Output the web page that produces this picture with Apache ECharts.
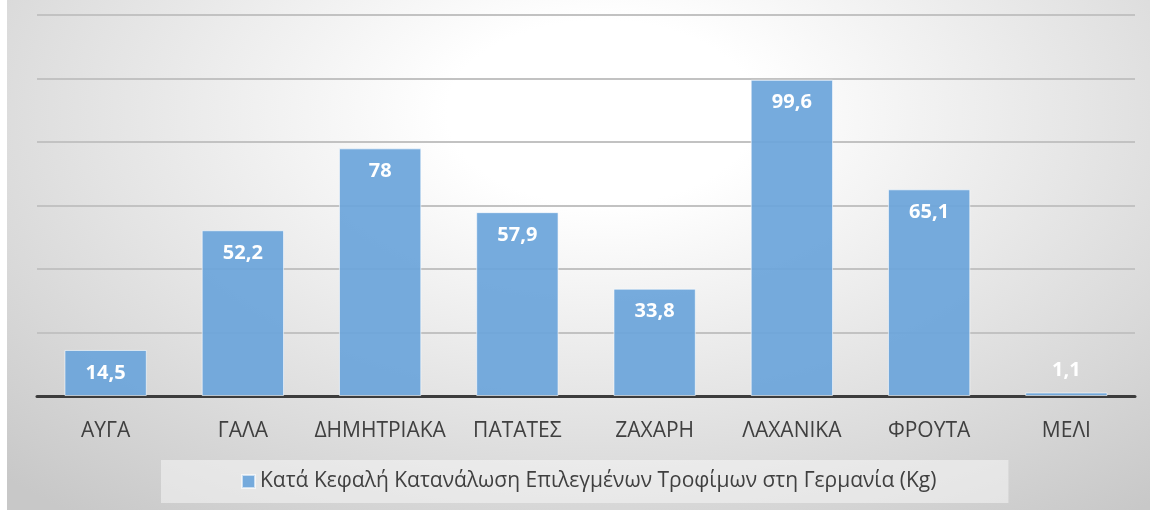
<!DOCTYPE html>
<html>
<head>
<meta charset="utf-8">
<script src="https://cdn.jsdelivr.net/npm/echarts@6/dist/echarts.min.js"></script>
<style>
  html, body { margin: 0; padding: 0; background: #ffffff; }
  #chart {
    position: absolute;
    left: 7px;
    top: 0;
    width: 1143px;
    height: 510px;
    background: radial-gradient(ellipse 75% 100% at 52% 22%, #ffffff 18%, #c8c8c8 100%);
  }
</style>
</head>
<body>
<div id="chart"></div>
<script>
  // Κατά κεφαλή κατανάλωση (Kg)
  const categories = ['ΑΥΓΑ', 'ΓΑΛΑ', 'ΔΗΜΗΤΡΙΑΚΑ', 'ΠΑΤΑΤΕΣ', 'ΖΑΧΑΡΗ', 'ΛΑΧΑΝΙΚΑ', 'ΦΡΟΥΤΑ', 'ΜΕΛΙ'];
  const values = [14.5, 52.2, 78, 57.9, 33.8, 99.6, 65.1, 1.1];
  const seriesName = 'Κατά Κεφαλή Κατανάλωση Επιλεγμένων Τροφίμων στη Γερμανία (Kg)';

  const font = '"Open Sans", "Noto Sans", sans-serif';

  // tiny bar: label goes above it
  const barData = values.map(v => v < 5
    ? { value: v, label: { position: 'top', distance: 12 } }
    : v);

  let myChart = echarts.init(document.getElementById('chart'));
  myChart.setOption({
    backgroundColor: 'transparent',
    animation: false,
    textStyle: { fontFamily: font },
    grid: {
      left: 30,
      right: 15,
      top: 15,
      bottom: 114
    },
    legend: {
      data: [{ name: seriesName, icon: 'rect' }],
      bottom: 7,
      left: 154,
      itemWidth: 13,
      itemHeight: 13,
      itemGap: 5,
      padding: [11, 72, 11, 80],
      backgroundColor: 'rgba(245,245,245,0.55)',
      textStyle: { fontSize: 21, color: '#404040', fontFamily: font }
    },
    xAxis: {
      type: 'category',
      data: categories,
      axisLine: { lineStyle: { color: '#3c3c3c', width: 3 } },
      axisTick: { show: false },
      axisLabel: { interval: 0, fontSize: 21, color: '#404040', margin: 25, fontFamily: font }
    },
    yAxis: {
      type: 'value',
      min: 0,
      max: 120,
      interval: 20,
      axisLabel: { show: false },
      axisLine: { show: false },
      axisTick: { show: false },
      splitLine: { lineStyle: { color: '#c2c2c2', width: 2 } }
    },
    series: [{
      name: seriesName,
      type: 'bar',
      data: barData,
      barCategoryGap: '40%',
      itemStyle: {
        color: 'rgba(108,165,218,0.93)',
        borderColor: 'rgba(255,255,255,0.6)',
        borderWidth: 1
      },
      label: {
        show: true,
        position: 'insideTop',
        distance: 13,
        color: '#ffffff',
        fontSize: 20,
        fontWeight: 'bold',
        fontFamily: font,
        formatter: p => String(p.value).replace('.', ',')
      }
    }]
  });
</script>
</body>
</html>
